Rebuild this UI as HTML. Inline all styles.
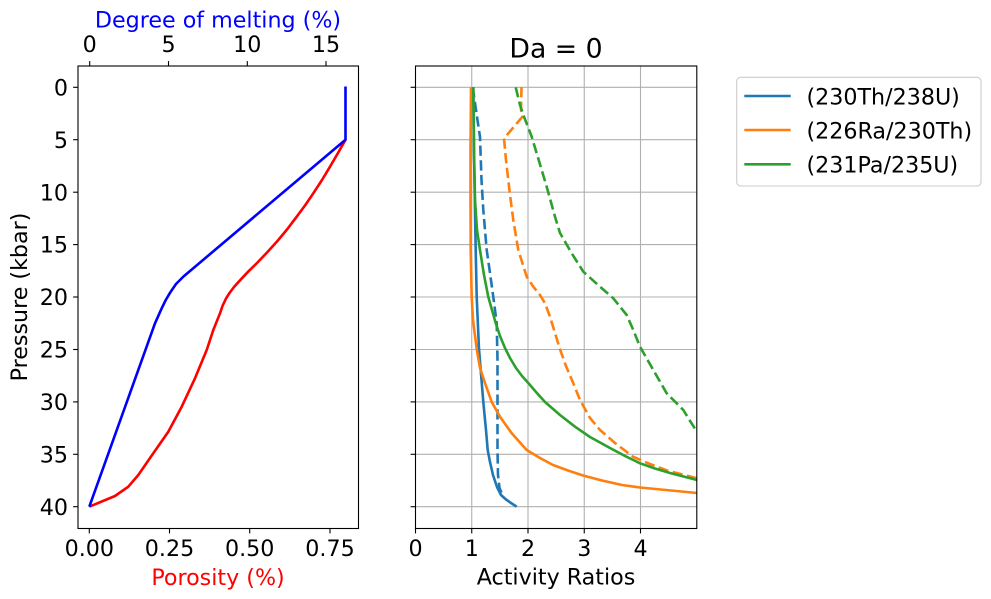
<!DOCTYPE html>
<html>
<head>
<meta charset="utf-8">
<style>
html,body{margin:0;padding:0;background:#fff;}
svg{display:block;}
text{font-family:"DejaVu Sans","Liberation Sans",sans-serif;font-size:22.2px;fill:#000;}
</style>
</head>
<body>
<svg width="991" height="599" viewBox="0 0 991 599" xmlns="http://www.w3.org/2000/svg">
<defs>
<clipPath id="cl"><rect x="78" y="66" width="280.5" height="462.5"/></clipPath>
<clipPath id="cr"><rect x="415.5" y="66" width="281.3" height="462.5"/></clipPath>
</defs>
<rect width="991" height="599" fill="#fff"/>

<!-- ============ LEFT AXES ============ -->
<g clip-path="url(#cl)" fill="none" stroke-width="2.6" stroke-linejoin="round">
  <polyline stroke="#ff0000" points="345.5,139.7 338,153 330,166.7 322,180 313.3,193.3 305,205.5 296.7,216.7 287,229.5 277,241.5 267,252.5 257,263 248,271.8 240.5,279.8 234,287 229.5,293 226,298.5 222.5,306 220,313.3 213.3,330 206.7,350 195,378.3 181.7,406.7 168.3,431.7 153.3,453.3 138.3,475 128.3,486.7 115,496 89.3,506.7"/>
  <polyline stroke="#0000ff" points="345.5,86.5 345.5,139.7 183.5,276.5 176,284 170,292.8 165.5,300.5 161.7,308.3 155,323.3 89.3,506.7"/>
</g>
<rect x="78" y="66" width="280.5" height="462.5" fill="none" stroke="#000" stroke-width="1.1"/>
<!-- left y ticks -->
<g stroke="#000" stroke-width="1.1">
  <line x1="73.1" y1="87.3" x2="78" y2="87.3"/>
  <line x1="73.1" y1="139.7" x2="78" y2="139.7"/>
  <line x1="73.1" y1="192.2" x2="78" y2="192.2"/>
  <line x1="73.1" y1="244.6" x2="78" y2="244.6"/>
  <line x1="73.1" y1="297.0" x2="78" y2="297.0"/>
  <line x1="73.1" y1="349.5" x2="78" y2="349.5"/>
  <line x1="73.1" y1="401.9" x2="78" y2="401.9"/>
  <line x1="73.1" y1="454.3" x2="78" y2="454.3"/>
  <line x1="73.1" y1="506.7" x2="78" y2="506.7"/>
  <!-- bottom x ticks -->
  <line x1="89.3" y1="528.5" x2="89.3" y2="533.4"/>
  <line x1="169.5" y1="528.5" x2="169.5" y2="533.4"/>
  <line x1="249.7" y1="528.5" x2="249.7" y2="533.4"/>
  <line x1="330" y1="528.5" x2="330" y2="533.4"/>
  <!-- top x ticks -->
  <line x1="89.7" y1="66" x2="89.7" y2="61.1"/>
  <line x1="168.5" y1="66" x2="168.5" y2="61.1"/>
  <line x1="247.3" y1="66" x2="247.3" y2="61.1"/>
  <line x1="326" y1="66" x2="326" y2="61.1"/>
</g>
<g text-anchor="end">
  <text x="68" y="95.4">0</text>
  <text x="68" y="147.8">5</text>
  <text x="68" y="200.3">10</text>
  <text x="68" y="252.7">15</text>
  <text x="68" y="305.1">20</text>
  <text x="68" y="357.6">25</text>
  <text x="68" y="410.0">30</text>
  <text x="68" y="462.4">35</text>
  <text x="68" y="514.8">40</text>
</g>
<g text-anchor="middle">
  <text x="89.3" y="556">0.00</text>
  <text x="169.5" y="556">0.25</text>
  <text x="249.7" y="556">0.50</text>
  <text x="330" y="556">0.75</text>
  <text x="89.7" y="52">0</text>
  <text x="168.5" y="52">5</text>
  <text x="247.3" y="52">10</text>
  <text x="326" y="52">15</text>
  <text x="218" y="27.3" style="fill:#0000ff">Degree of melting (%)</text>
  <text x="218" y="585" style="fill:#ff0000">Porosity (%)</text>
  <text transform="translate(27,297) rotate(-90)">Pressure (kbar)</text>
</g>

<!-- ============ RIGHT AXES ============ -->
<g stroke="#b0b0b0" stroke-width="1.1">
  <line x1="471.75" y1="66" x2="471.75" y2="528.5"/>
  <line x1="528" y1="66" x2="528" y2="528.5"/>
  <line x1="584.25" y1="66" x2="584.25" y2="528.5"/>
  <line x1="640.5" y1="66" x2="640.5" y2="528.5"/>
  <line x1="415.5" y1="87.3" x2="696.8" y2="87.3"/>
  <line x1="415.5" y1="139.7" x2="696.8" y2="139.7"/>
  <line x1="415.5" y1="192.2" x2="696.8" y2="192.2"/>
  <line x1="415.5" y1="244.6" x2="696.8" y2="244.6"/>
  <line x1="415.5" y1="297.0" x2="696.8" y2="297.0"/>
  <line x1="415.5" y1="349.5" x2="696.8" y2="349.5"/>
  <line x1="415.5" y1="401.9" x2="696.8" y2="401.9"/>
  <line x1="415.5" y1="454.3" x2="696.8" y2="454.3"/>
  <line x1="415.5" y1="506.7" x2="696.8" y2="506.7"/>
</g>
<g clip-path="url(#cr)" fill="none" stroke-width="2.6" stroke-linejoin="round">
  <!-- 230Th/238U -->
  <polyline stroke="#1f77b4" points="473.3,87.3 474,150 474.8,200 475.7,250 476.7,297 479,349 483.3,402 486,430 487.7,450 490,462 493,475 497,487 501,495 506,499.5 511,503 516.7,506.7"/>
  <polyline stroke="#1f77b4" stroke-dasharray="10.3 4.4" points="472.7,87.3 476,110 480,137 481.5,180 483.3,210 486.7,250 490,273 493.3,297 496.7,323 497.5,360 497.5,450 498,475 499.5,488 503.3,496.7"/>
  <!-- 226Ra/230Th -->
  <polyline stroke="#ff7f0e" points="471,87.3 470.5,150 470.5,200 470.7,250 471.7,297 473,320 476.7,349 480,368 485,383 491.7,402 500,416.7 511.7,433.3 526.7,450 540,458 553,465 568,470.5 583,475.5 602,480.5 622,485 640,487.5 697,493"/>
  <polyline stroke="#ff7f0e" stroke-dasharray="10.3 4.4" points="521.5,87 521,110 523,116 504,138.5 506,160 510,195 513.3,220 518.3,250 526.7,276.7 533.3,286.7 540,295 545,303.3 550,316.7 555,333 560,349.3 566,366 573.3,383.3 580,400 590,418 600,430 615,443 633,456.7 650,464 667,470.5 697,478.3"/>
  <!-- 231Pa/235U -->
  <polyline stroke="#2ca02c" points="473.3,87.3 474,150 475,200 477,230 480,250 484,275 488.3,297 495.7,323 500,336 505,348 510,358 516,368 522,376 528.3,383 536,392 545,402 560,415 575,426.7 590,437 610,448 625,456 640,463.3 655,468.5 670,473 697,480"/>
  <polyline stroke="#2ca02c" stroke-dasharray="10.3 4.4" points="515.7,87.3 520,105 524,116.7 531.7,136.7 536.7,153.3 546.7,186.7 555,216.7 560,233 571.7,253.3 583.3,271.7 600,286.7 613.3,298.3 620,306.7 626.7,315 633.3,330 640,346.7 653.3,370 666.7,393.3 683.3,410 697,432"/>
</g>
<rect x="415.5" y="66" width="281.3" height="462.5" fill="none" stroke="#000" stroke-width="1.1"/>
<g stroke="#000" stroke-width="1.1">
  <line x1="410.6" y1="87.3" x2="415.5" y2="87.3"/>
  <line x1="410.6" y1="139.7" x2="415.5" y2="139.7"/>
  <line x1="410.6" y1="192.2" x2="415.5" y2="192.2"/>
  <line x1="410.6" y1="244.6" x2="415.5" y2="244.6"/>
  <line x1="410.6" y1="297.0" x2="415.5" y2="297.0"/>
  <line x1="410.6" y1="349.5" x2="415.5" y2="349.5"/>
  <line x1="410.6" y1="401.9" x2="415.5" y2="401.9"/>
  <line x1="410.6" y1="454.3" x2="415.5" y2="454.3"/>
  <line x1="410.6" y1="506.7" x2="415.5" y2="506.7"/>
  <line x1="415.5" y1="528.5" x2="415.5" y2="533.4"/>
  <line x1="471.75" y1="528.5" x2="471.75" y2="533.4"/>
  <line x1="528" y1="528.5" x2="528" y2="533.4"/>
  <line x1="584.25" y1="528.5" x2="584.25" y2="533.4"/>
  <line x1="640.5" y1="528.5" x2="640.5" y2="533.4"/>
</g>
<g text-anchor="middle">
  <text x="415.5" y="556">0</text>
  <text x="471.75" y="556">1</text>
  <text x="528" y="556">2</text>
  <text x="584.25" y="556">3</text>
  <text x="640.5" y="556">4</text>
  <text x="556" y="584.5">Activity Ratios</text>
  <text x="556" y="57.3" style="font-size:26.7px">Da = 0</text>
</g>

<!-- ============ LEGEND ============ -->
<rect x="736.7" y="77.3" width="244.3" height="108.7" rx="4" ry="4" fill="#fff" fill-opacity="0.8" stroke="#cccccc" stroke-width="1.1"/>
<g stroke-width="2.6">
  <line x1="744.3" y1="96" x2="790.7" y2="96" stroke="#1f77b4"/>
  <line x1="744.3" y1="130" x2="790.7" y2="130" stroke="#ff7f0e"/>
  <line x1="744.3" y1="164.3" x2="790.7" y2="164.3" stroke="#2ca02c"/>
</g>
<text x="806.5" y="104.3">(230Th/238U)</text>
<text x="806.5" y="138.3">(226Ra/230Th)</text>
<text x="806.5" y="172.6">(231Pa/235U)</text>
</svg>
</body>
</html>
